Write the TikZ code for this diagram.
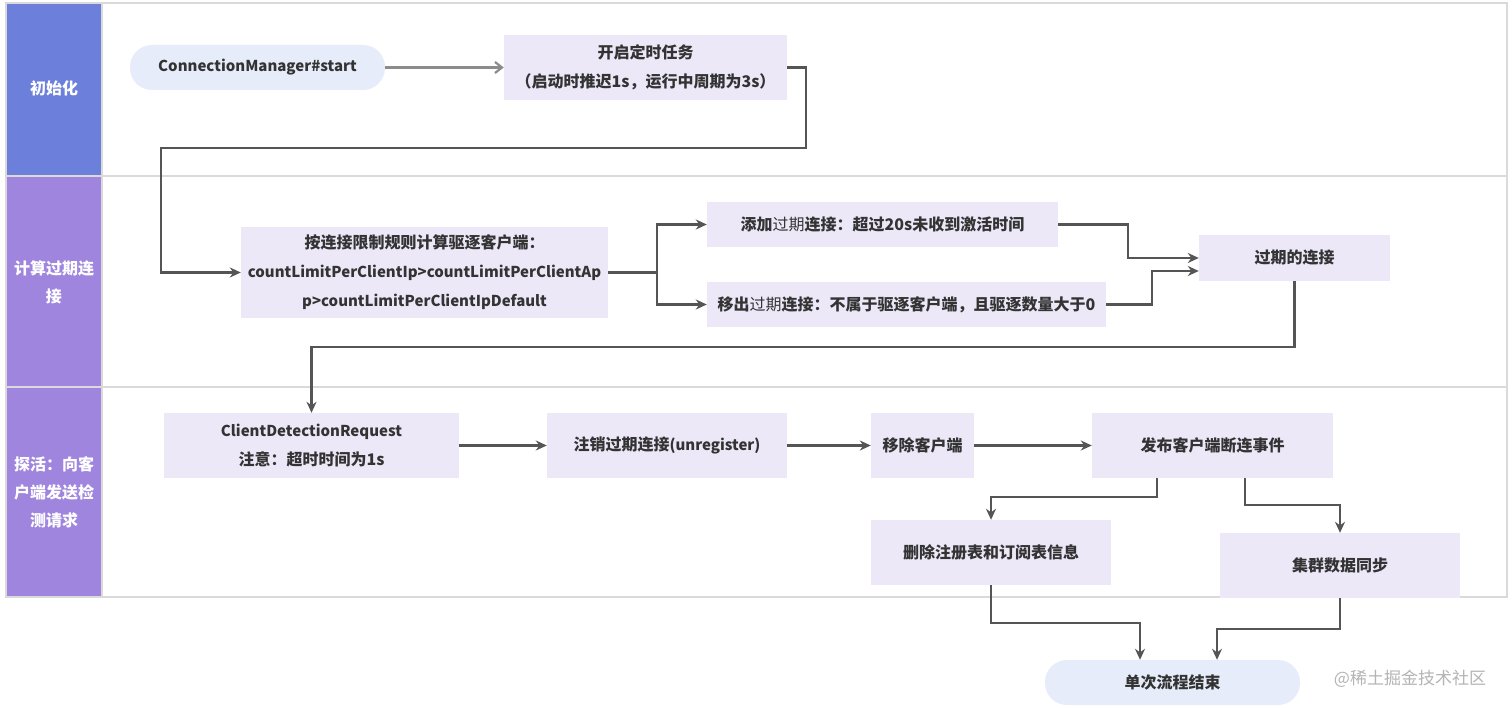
\documentclass[tikz,border=0pt]{standalone}
\usepackage{fontspec}
\setmainfont{Noto Sans CJK SC}
\usetikzlibrary{calc,arrows.meta}
\definecolor{boxfill}{HTML}{ECE8F8}
\definecolor{pillfill}{HTML}{E6ECF9}
\definecolor{hdrA}{HTML}{6C7FDB}
\definecolor{hdrB}{HTML}{9F85DD}
\definecolor{laneline}{HTML}{DADADA}
\definecolor{txt}{HTML}{333333}
\definecolor{arrdark}{HTML}{555555}
\definecolor{arrlight}{HTML}{8C8C8C}
\definecolor{wm}{HTML}{B4B4B4}
\tikzset{
  box/.style={fill=boxfill, draw=none, align=center, inner sep=0pt, text=txt,
     font=\fontsize{16}{29}\selectfont\bfseries},
  pill/.style={box, fill=pillfill, rounded corners=22pt},
  hdr/.style={align=center, text=white, font=\fontsize{16}{28}\selectfont\bfseries},
  arr/.style={draw=arrdark, line width=2.3pt, -{Stealth[length=11pt,width=10pt]}},
  arrl/.style={draw=arrlight, line width=2.2pt, -{Straight Barb[length=7pt,width=11pt]}},
}
\newcommand{\rg}[1]{{\mdseries #1}}
\newcommand{\lat}{\fontsize{15}{29}\selectfont}
\begin{document}
\begin{tikzpicture}[x=1pt,y=-1pt]
\useasboundingbox (0,0) rectangle (1512,708);
\fill[white] (0,0) rectangle (1512,708);
% lanes
\fill[hdrA] (6,3) rectangle (102,176);
\fill[hdrB] (6,176) rectangle (102,387);
\fill[hdrB] (6,387) rectangle (102,597);
\draw[laneline, line width=1.2pt] (6,3) rectangle (1507,597);
\draw[laneline, line width=1.2pt] (6,176) -- (1507,176);
\draw[laneline, line width=1.2pt] (6,387) -- (1507,387);
\draw[laneline, line width=1.2pt] (102,3) -- (102,597);
\node[hdr] (h1) at (54,88) {初始化};
\node[hdr] (h2) at (54,282) {计算过期连\\接};
\node[hdr] (h3) at (54,492) {探活：向客\\户端发送检\\测请求};
% nodes
\node[pill, minimum width=255pt, minimum height=45pt, font=\lat\bfseries] (start) at (257.5,67.5) {ConnectionManager\#start};
\node[box, minimum width=283pt, minimum height=65pt] (timer) at (645.5,67.5) {开启定时任务\\（启动时推迟1s，运行中周期为3s）};
\node[box, minimum width=367pt, minimum height=91pt] (calc) at (424.5,272.5) {按连接限制规则计算驱逐客户端：\\{\lat countLimitPerClientIp>countLimitPerClientAp}\\{\lat p>countLimitPerClientIpDefault}};
\node[box, minimum width=351pt, minimum height=45pt] (add) at (882.5,224.5) {添加\rg{过期}连接：超过20s未收到激活时间};
\node[box, minimum width=399pt, minimum height=45pt] (rem) at (906.5,304.5) {移出\rg{过期}连接：不属于驱逐客户端，且驱逐数量大于0};
\node[box, minimum width=191pt, minimum height=46pt] (exp) at (1294.5,258) {过期的连接};
\node[box, minimum width=295pt, minimum height=65pt] (cdr) at (311.5,445.5) {{\lat ClientDetectionRequest}\\注意：超时时间为1s};
\node[box, minimum width=240pt, minimum height=65pt] (unreg) at (667,445.5) {注销过期连接{\lat (unregister)}};
\node[box, minimum width=103pt, minimum height=65pt] (rmc) at (922.5,445.5) {移除客户端};
\node[box, minimum width=241pt, minimum height=65pt] (pub) at (1212.5,445.5) {发布客户端断连事件};
\node[box, minimum width=240pt, minimum height=65pt] (del) at (991,552.5) {删除注册表和订阅表信息};
\node[box, minimum width=240pt, minimum height=65pt] (sync) at (1340,565.5) {集群数据同步};
\node[pill, minimum width=255pt, minimum height=45pt] (end) at (1172.5,682.5) {单次流程结束};
\node[text=wm, font=\fontsize{17}{18}\selectfont, inner sep=0pt] (wmk) at (1410,679) {@稀土掘金技术社区};
% connectors
\draw[arrl] (start.east) -- (timer.west);
\coordinate (t1) at (806,148);
\coordinate (t2) at (161,148);
\draw[arr] (timer.east) -| (t1) -- (t2) |- (calc.west);
\coordinate (sp) at (657,272.5);
\draw[arr] (calc.east) -- (sp) |- (add.west);
\draw[arr] (sp) |- (rem.west);
\coordinate (a1) at (1128,0);
\coordinate (r1) at (1152,0);
\draw[arr] (add.east) -| (a1 |- exp.west) -- (exp.west);
\draw[arr] (rem.east) -| ($(r1 |- exp.west)+(0,13)$) -- ($(exp.west)+(0,13)$);
\coordinate (x1) at (0,347);
\draw[arr] (exp.south) -- (exp.south |- x1) -| (cdr.north);
\draw[arr] (cdr.east) -- (unreg.west);
\draw[arr] (unreg.east) -- (rmc.west);
\draw[arr] (rmc.east) -- (pub.west);
\coordinate (p1) at (1157,497);
\coordinate (p2) at (1245,505);
\draw[arr] (pub.south -| p1) -- (p1) -| (del.north);
\draw[arr] (pub.south -| p2) -- (p2) -| (sync.north);
\coordinate (d1) at (0,623);
\coordinate (s1) at (0,629);
\draw[arr] (del.south) -- (del.south |- d1) -| ($(end.north)+(-32.5,0)$);
\draw[arr] (sync.south) -- (sync.south |- s1) -| ($(end.north)+(44.5,0)$);
\end{tikzpicture}
\end{document}
